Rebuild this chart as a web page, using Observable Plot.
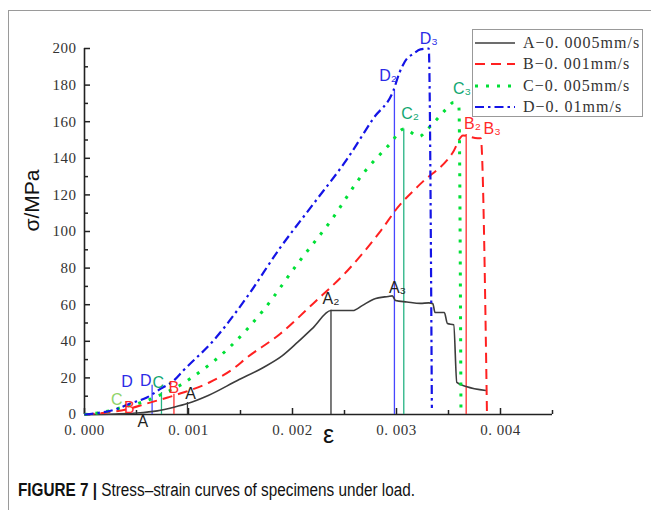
<!DOCTYPE html>
<html><head><meta charset="utf-8">
<script src="https://cdn.jsdelivr.net/npm/d3@7"></script>
<script src="https://cdn.jsdelivr.net/npm/@observablehq/plot@0.6"></script>
<style>
html,body{margin:0;padding:0;background:#fff;}
#fig{position:relative;width:651px;height:510px;overflow:hidden;background:#fff;}
#frame{position:absolute;left:8px;top:10px;width:700px;height:600px;border-left:1.5px solid #9a9a9a;border-top:1.5px solid #9a9a9a;}
#chart{position:absolute;left:0;top:0;}
#chart svg{overflow:visible;}
#legend{position:absolute;left:472px;top:29px;width:171px;height:88px;border:1px solid #999;background:#fff;box-sizing:border-box;}
.row{position:absolute;left:0;width:170px;height:20px;}
.row svg{position:absolute;left:1px;top:5px;}
.row span{position:absolute;left:50px;top:0;line-height:20px;font-family:"Liberation Serif","DejaVu Serif",serif;font-size:16px;letter-spacing:1px;color:#333;white-space:nowrap;}
#caption{position:absolute;left:18px;top:480px;font-family:"Liberation Sans Narrow","Liberation Sans",Arial,sans-serif;font-size:18px;color:#111;white-space:nowrap;transform-origin:0 0;}
#caption b{font-weight:bold;}
</style>
</head><body>
<div id="fig">
  <div id="frame"></div>
  <div id="chart"></div>
  <div id="legend"></div>
  <div id="caption"><b>FIGURE 7 |</b> Stress–strain curves of specimens under load.</div>
</div>
<script>
// ---- data ----
const aStrain = [0, 0.0003, 0.0005, 0.0007, 0.00086, 0.00099, 0.00119, 0.00147, 0.00172, 0.0019, 0.00205, 0.0022, 0.00237, 0.00258, 0.00267, 0.00278, 0.00292, 0.00296, 0.00299, 0.0031, 0.00323, 0.00331, 0.00335, 0.00337, 0.00346, 0.00349, 0.00355, 0.00358, 0.00367, 0.00386];
const aStress = [0, 0.3, 0.8, 2, 4, 6, 10.4, 18.6, 25.7, 32, 39.5, 47.5, 56.8, 56.8, 59.5, 63, 64.5, 64.8, 62.3, 61.5, 60.7, 61, 60.5, 55.7, 55.7, 49.7, 49, 17.5, 15.3, 13.1];

const bStrain = [0, 0.0002, 0.00044, 0.0006, 0.0008, 0.00095, 0.0012, 0.00143, 0.00156, 0.00188, 0.0022, 0.00253, 0.00285, 0.00301, 0.00323, 0.00354, 0.00364, 0.00378, 0.00381, 0.00387];
const bStress = [0, 1, 3.3, 6, 9.3, 12, 17.5, 25, 31, 44, 60.7, 78.7, 100.5, 113, 126, 143, 152.5, 151, 151, 0];

const cStrain = [0, 0.0002, 0.00037, 0.00057, 0.00076, 0.00092, 0.00104, 0.0014, 0.00172, 0.00205, 0.00237, 0.00268, 0.00294, 0.00307, 0.00322, 0.0033, 0.0034, 0.00348, 0.00355, 0.0036, 0.00362];
const cStress = [0, 1.5, 4, 7, 11.5, 16, 20.5, 37, 57, 82.5, 106, 131.7, 148, 156, 152, 156, 162, 167, 170.5, 168, 0];

const dStrain = [0, 0.00015, 0.00028, 0.00044, 0.0006, 0.00073, 0.00086, 0.00095, 0.00124, 0.00156, 0.00188, 0.0022, 0.00253, 0.00278, 0.00297, 0.00303, 0.0031, 0.00316, 0.00323, 0.00331, 0.00334];
const dStress = [0, 1, 2.5, 6, 9.3, 14, 18.6, 24, 40.4, 64, 91, 115, 140, 162, 177, 187, 194.5, 197, 199.5, 200, 3.5];

const markerSeries = ["D", "C", "B", "A", "A", "D", "C", "B"];
const markerStrain = [0.00065, 0.00074, 0.00086, 0.00099, 0.00237, 0.00298, 0.00307, 0.00367];
const markerStress = [16, 12, 11, 6.5, 57, 177, 156, 153];

const labelText = ["D", "D", "C", "B", "A", "C", "B", "A", "A₂", "A₃", "D₂", "D₃", "C₂", "C₃", "B₂", "B₃"];
const labelSeries = ["D", "D", "C", "B", "A", "C0", "B", "A", "A", "A", "D", "D", "C", "C", "B", "B"];
const labelStrain = [0.00041, 0.00059, 0.00071, 0.00086, 0.00102, 0.00031, 0.00043, 0.00056, 0.00237, 0.00301, 0.00292, 0.00331, 0.00313, 0.00363, 0.00373, 0.00392];
const labelStress = [18, 18.6, 17.5, 14.8, 11.5, 7.8, 3.5, -3.8, 63.4, 69, 185, 205.5, 164.5, 178, 159, 156];

const legendSeries = ["A", "B", "C", "D"];
const legendLabels = ["A−0. 0005mm/s", "B−0. 001mm/s", "C−0. 005mm/s", "D−0. 01mm/s"];

const xMajor = [0, 0.001, 0.002, 0.003, 0.004];
const xMinor = [0.0005, 0.0015, 0.0025, 0.0035, 0.0045];
const xTickLabels = ["0. 000", "0. 001", "0. 002", "0. 003", "0. 004"];
const yMajor = [0, 20, 40, 60, 80, 100, 120, 140, 160, 180, 200];
const yMinor = [10, 30, 50, 70, 90, 110, 130, 150, 170, 190];
const yTickLabels = ["0", "20", "40", "60", "80", "100", "120", "140", "160", "180", "200"];
const xAxisTitle = "ε";
const yAxisTitle = "σ/MPa";

// ---- styles ----
const lineStyle = {
  A: {stroke: "#3c3c3c", strokeWidth: 1.6, strokeDasharray: null},
  B: {stroke: "#ff2020", strokeWidth: 2, strokeDasharray: "10,6"},
  C: {stroke: "#00e036", strokeWidth: 3, strokeDasharray: "3,8"},
  D: {stroke: "#1414e6", strokeWidth: 2.2, strokeDasharray: "9,4,2.5,4"}
};
const labelColor = {A: "#1e1e1e", B: "#ff2a2a", C: "#12a772", C0: "#8fd46a", D: "#2b2be6"};
const markerColor = {A: "#333333", B: "#ff3030", C: "#25b383", D: "#4646ff"};

const rows = (e, s) => e.map((v, i) => ({e: v, s: s[i]}));
const series = {A: rows(aStrain, aStress), B: rows(bStrain, bStress), C: rows(cStrain, cStress), D: rows(dStrain, dStress)};
const markers = markerStrain.map((v, i) => ({e: v, s: markerStress[i], k: markerSeries[i]}));
const labels = labelStrain.map((v, i) => ({e: v, s: labelStress[i], t: labelText[i], k: labelSeries[i]}));

const serif = "Liberation Serif, DejaVu Serif, serif";
const sans = "Liberation Sans, Arial, sans-serif";

const plot = Plot.plot({
  width: 651, height: 470,
  marginLeft: 84, marginRight: 99, marginTop: 48, marginBottom: 56,
  x: {domain: [0, 0.0045]},
  y: {domain: [0, 200]},
  color: {type: "identity"},
  style: {background: "transparent", overflow: "visible"},
  marks: [
    // inward ticks
    Plot.axisX({ticks: xMajor, tickSize: 6, dy: -6, tickFormat: () => "", label: null, stroke: "#222", strokeWidth: 1.5}),
    Plot.axisX({ticks: xMinor, tickSize: 4, dy: -4, tickFormat: () => "", label: null, stroke: "#222", strokeWidth: 1.5}),
    Plot.axisY({ticks: yMajor, tickSize: 6, dx: 6, tickFormat: () => "", label: null, stroke: "#222", strokeWidth: 1.5}),
    Plot.axisY({ticks: yMinor, tickSize: 4, dx: 4, tickFormat: () => "", label: null, stroke: "#222", strokeWidth: 1.5}),
    // tick labels
    Plot.axisX({ticks: xMajor, tickSize: 0, tickPadding: 10, tickFormat: d => xTickLabels[xMajor.indexOf(d)], label: null, fontSize: 15, fontFamily: serif, fill: "#333"}),
    Plot.axisY({ticks: yMajor, tickSize: 0, tickPadding: 8, tickFormat: d => yTickLabels[yMajor.indexOf(d)], label: null, fontSize: 15, fontFamily: serif, fill: "#333"}),
    // axis lines
    Plot.ruleY([0], {stroke: "#222", strokeWidth: 1.6}),
    Plot.ruleX([0], {stroke: "#222", strokeWidth: 1.6}),
    // marker verticals
    Plot.ruleX(markers, {x: "e", y1: 0, y2: "s", stroke: d => markerColor[d.k], strokeWidth: 1.3}),
    // curves
    ...["A", "B", "C", "D"].map(k => Plot.line(series[k], {x: "e", y: "s", ...lineStyle[k], curve: "monotone-x", strokeLinecap: "butt", strokeLinejoin: "round"})),
    // point labels
    Plot.text(labels, {x: "e", y: "s", text: "t", fill: d => labelColor[d.k], fontSize: 16, fontFamily: sans}),
    // axis titles
    Plot.text([yAxisTitle], {frameAnchor: "left", dx: -52, rotate: -90, fontSize: 21, fontFamily: sans, fill: "#111"}),
    Plot.text([xAxisTitle], {frameAnchor: "bottom", dx: 10, dy: 28, fontSize: 25, fontFamily: sans, fill: "#111"})
  ]
});
document.getElementById("chart").appendChild(plot);
plot.querySelectorAll('g[aria-label="x-axis tick label"] text, g[aria-label="y-axis tick label"] text').forEach(t => t.setAttribute("letter-spacing", "0.5"));

// legend
const legend = document.getElementById("legend");
legendSeries.forEach((k, i) => {
  const row = document.createElement("div");
  row.className = "row";
  row.style.top = (3 + i * 21.3) + "px";
  const st = lineStyle[k];
  row.innerHTML = `<svg width="44" height="10"><line x1="1" x2="41" y1="5" y2="5" stroke="${st.stroke}" stroke-width="${st.strokeWidth}" ${st.strokeDasharray ? `stroke-dasharray="${st.strokeDasharray}"` : ""}/></svg><span>${legendLabels[i]}</span>`;
  legend.appendChild(row);
});

// caption width fit
const cap = document.getElementById("caption");
const w = cap.getBoundingClientRect().width;
cap.style.transform = `scaleX(${397 / w})`;
</script>
</body></html>
